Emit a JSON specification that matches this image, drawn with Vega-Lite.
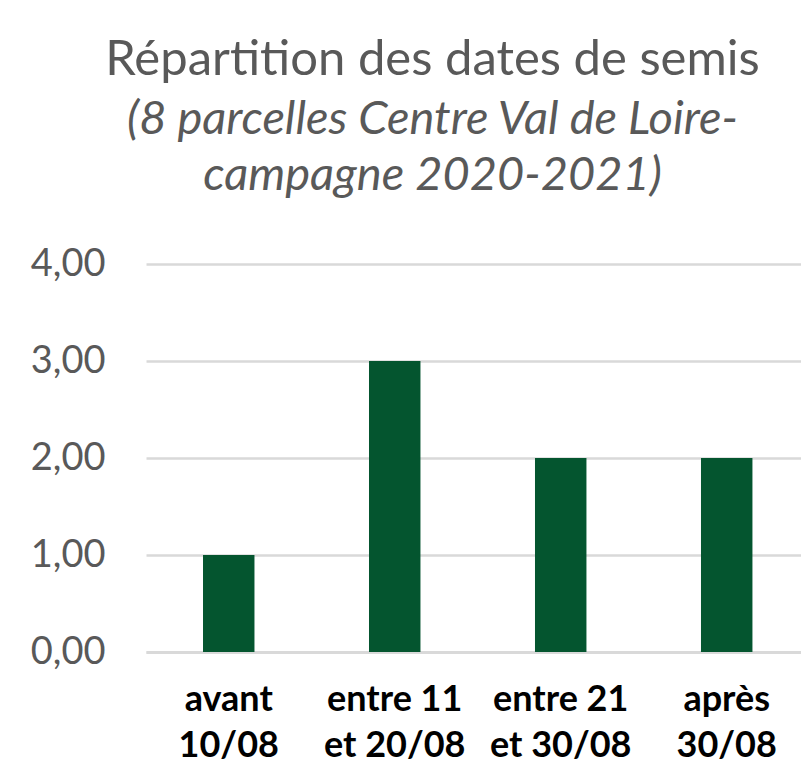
{
  "$schema": "https://vega.github.io/schema/vega-lite/v6.json",
  "autosize": {"type": "none"},
  "padding": {"left": 146, "top": 264, "right": 0, "bottom": 127},
  "width": 655,
  "height": 388,
  "background": "white",
  "title": {
    "text": "Répartition des dates de semis",
    "subtitle": ["(8 parcelles Centre Val de Loire-", "campagne 2020-2021)"],
    "anchor": "middle",
    "dx": -41,
    "font": "Lato",
    "fontSize": 49,
    "fontWeight": "normal",
    "color": "#595959",
    "subtitleFont": "Lato",
    "subtitleFontSize": 47,
    "subtitleFontStyle": "italic",
    "subtitleColor": "#595959",
    "subtitleLineHeight": 56,
    "subtitlePadding": 12,
    "offset": 46
  },
  "data": {
    "values": [
      {"periode": "avant|10/08", "parcelles": 1},
      {"periode": "entre 11|et 20/08", "parcelles": 3},
      {"periode": "entre 21|et 30/08", "parcelles": 2},
      {"periode": "après|30/08", "parcelles": 2}
    ]
  },
  "mark": {"type": "bar", "color": "#04552F"},
  "encoding": {
    "x": {
      "field": "periode",
      "type": "nominal",
      "sort": null,
      "scale": {"paddingInner": 0.69, "paddingOuter": 0.318, "align": 0.54},
      "axis": {
        "title": null,
        "labelAngle": 0,
        "labelExpr": "split(datum.label, '|')",
        "labelFont": "Lato",
        "labelFontSize": 36,
        "labelFontWeight": "bold",
        "labelColor": "#000000",
        "labelLineHeight": 46,
        "labelPadding": 30,
        "ticks": false,
        "domainColor": "#D9D9D9",
        "domainWidth": 3
      }
    },
    "y": {
      "field": "parcelles",
      "type": "quantitative",
      "scale": {"domain": [0, 4], "nice": false},
      "axis": {
        "title": null,
        "values": [0, 1, 2, 3, 4],
        "labelExpr": "replace(format(datum.value, '.2f'), '.', ',')",
        "labelFont": "Lato",
        "labelFontSize": 38,
        "labelColor": "#595959",
        "labelPadding": 41,
        "ticks": false,
        "domain": false,
        "gridColor": "#D9D9D9",
        "gridWidth": 2.5
      }
    }
  },
  "config": {"view": {"stroke": null}}
}
